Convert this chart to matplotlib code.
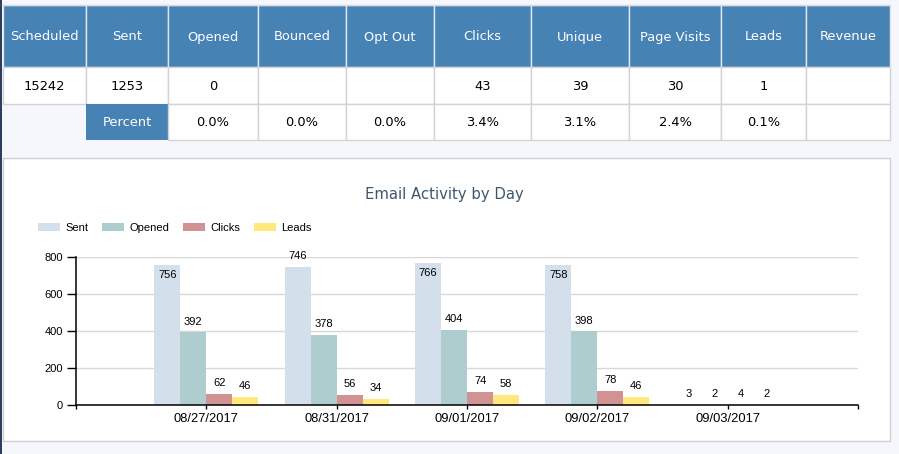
import matplotlib
matplotlib.use("Agg")
import matplotlib.pyplot as plt
from matplotlib.patches import Rectangle
import numpy as np

# ---------------- data ----------------
columns = ["Scheduled", "Sent", "Opened", "Bounced", "Opt Out", "Clicks",
           "Unique", "Page Visits", "Leads", "Revenue"]
counts = ["15242", "1253", "0", "", "", "43", "39", "30", "1", ""]
percents = ["", "Percent", "0.0%", "0.0%", "0.0%", "3.4%", "3.1%", "2.4%", "0.1%", ""]

chart_title = "Email Activity by Day"
dates = ["08/27/2017", "08/31/2017", "09/01/2017", "09/02/2017", "09/03/2017"]
series_names = ["Sent", "Opened", "Clicks", "Leads"]
sent = [756, 746, 766, 758, 3]
opened = [392, 378, 404, 398, 2]
clicks = [62, 56, 74, 78, 4]
leads = [46, 34, 58, 46, 2]
series_values = [sent, opened, clicks, leads]
y_ticks = [0, 200, 400, 600, 800]

# ---------------- styles / layout ----------------
W, H = 899, 454
BG = "#f6f7fc"
HEADER = "#4682b4"
BORDER = "#d3d3d3"
colors = ["#d3e0eb", "#aecdcf", "#d09292", "#ffe97c"]

col_edges = [3, 86, 168, 258, 346, 434, 531, 629, 721, 806, 890]
row_edges = [5, 67, 104, 140]

fig = plt.figure(figsize=(W / 100, H / 100), dpi=100)
fig.patch.set_facecolor(BG)

# overlay in pixel coordinates
ov = fig.add_axes([0, 0, 1, 1])
ov.set_xlim(0, W)
ov.set_ylim(H, 0)
ov.axis("off")

# left dark edge
ov.add_patch(Rectangle((0, 0), 2, H, facecolor="#2e3f5e", edgecolor="none"))
ov.plot([2, 890], [4.5, 4.5], color="#dcdcdc", lw=1)

table_font = dict(family="DejaVu Sans", fontsize=9.4)

for i, name in enumerate(columns):
    x0, x1 = col_edges[i], col_edges[i + 1]
    xc = (x0 + x1) / 2
    # header
    ov.add_patch(Rectangle((x0, row_edges[0]), x1 - x0, row_edges[1] - row_edges[0],
                           facecolor=HEADER, edgecolor="#dfe6ee", lw=1))
    ov.text(xc, (row_edges[0] + row_edges[1]) / 2 + 1, name, color="white",
            ha="center", va="center", **table_font)
    # counts row
    ov.add_patch(Rectangle((x0, row_edges[1]), x1 - x0, row_edges[2] - row_edges[1],
                           facecolor="white", edgecolor=BORDER, lw=1))
    ov.text(xc, (row_edges[1] + row_edges[2]) / 2 + 1, counts[i], color="black",
            ha="center", va="center", **table_font)
    # percent row
    if i == 0:
        continue
    if i == 1:
        ov.add_patch(Rectangle((x0, row_edges[2]), x1 - x0, row_edges[3] - row_edges[2],
                               facecolor=HEADER, edgecolor="none"))
        ov.text(xc, (row_edges[2] + row_edges[3]) / 2 + 1, percents[i], color="white",
                ha="center", va="center", **table_font)
    else:
        ov.add_patch(Rectangle((x0, row_edges[2]), x1 - x0, row_edges[3] - row_edges[2],
                               facecolor="white", edgecolor=BORDER, lw=1))
        ov.text(xc, (row_edges[2] + row_edges[3]) / 2 + 1, percents[i], color="black",
                ha="center", va="center", **table_font)

# chart panel
ov.add_patch(Rectangle((3, 158), 887, 283, facecolor="white", edgecolor="#cfcfd6", lw=1))
ov.text(444.5, 195, chart_title, color="#3e576f", ha="center", va="center",
        family="DejaVu Sans", fontsize=10.7)

# ---------------- chart ----------------
px_l, px_r, px_t, px_b = 76, 858, 256.7, 405.3
ax = fig.add_axes([px_l / W, 1 - px_b / H, (px_r - px_l) / W, (px_b - px_t) / H])
ax.set_facecolor("none")

x = np.arange(len(dates))
bw = 0.2
offsets = (np.arange(len(series_names)) - 1.5) * bw
handles = []
ymax = y_ticks[-1]
for k, (name, vals) in enumerate(zip(series_names, series_values)):
    bars = ax.bar(x + offsets[k], vals, width=bw, color=colors[k], label=name,
                  zorder=2, linewidth=0)
    handles.append(bars)
    for xi, v in zip(x + offsets[k], vals):
        if v > 0.9375 * ymax:
            ax.annotate(str(v), (xi, v), xytext=(0, -7.5), textcoords="offset points",
                        ha="center", va="center", fontsize=8, family="Liberation Sans",
                        color="black", zorder=3)
        else:
            ax.annotate(str(v), (xi, v), xytext=(0, 7.8), textcoords="offset points",
                        ha="center", va="center", fontsize=8, family="Liberation Sans",
                        color="black", zorder=3)

ax.set_xlim(-1, len(dates))
ax.set_ylim(0, ymax)
ax.set_yticks(y_ticks)
ax.set_yticklabels([str(t) for t in y_ticks], family="Liberation Sans", fontsize=8)
ax.set_xticks(np.arange(-1, len(dates) + 1))
ax.set_xticklabels([""] + dates + [""], family="Liberation Sans", fontsize=9.3)
ax.tick_params(axis="y", length=6.5, width=1, pad=3, colors="black")
ax.tick_params(axis="x", length=3, width=1, pad=2.5, colors="black")
ax.yaxis.grid(True, color="#d8d8d8", lw=1, zorder=0)
ax.set_axisbelow(True)
for s in ["top", "right"]:
    ax.spines[s].set_visible(False)
for s in ["left", "bottom"]:
    ax.spines[s].set_color("black")
    ax.spines[s].set_linewidth(1.1)

fig.legend(handles=handles, labels=series_names, ncol=4, frameon=False,
           loc="center left", bbox_to_anchor=(38 / W, 1 - 228 / H),
           borderaxespad=0, borderpad=0, handlelength=2.0, handleheight=0.73,
           handletextpad=0.45, columnspacing=1.25,
           prop={"family": "Liberation Sans", "size": 8})

fig.savefig("out.png", dpi=100, facecolor=BG)
